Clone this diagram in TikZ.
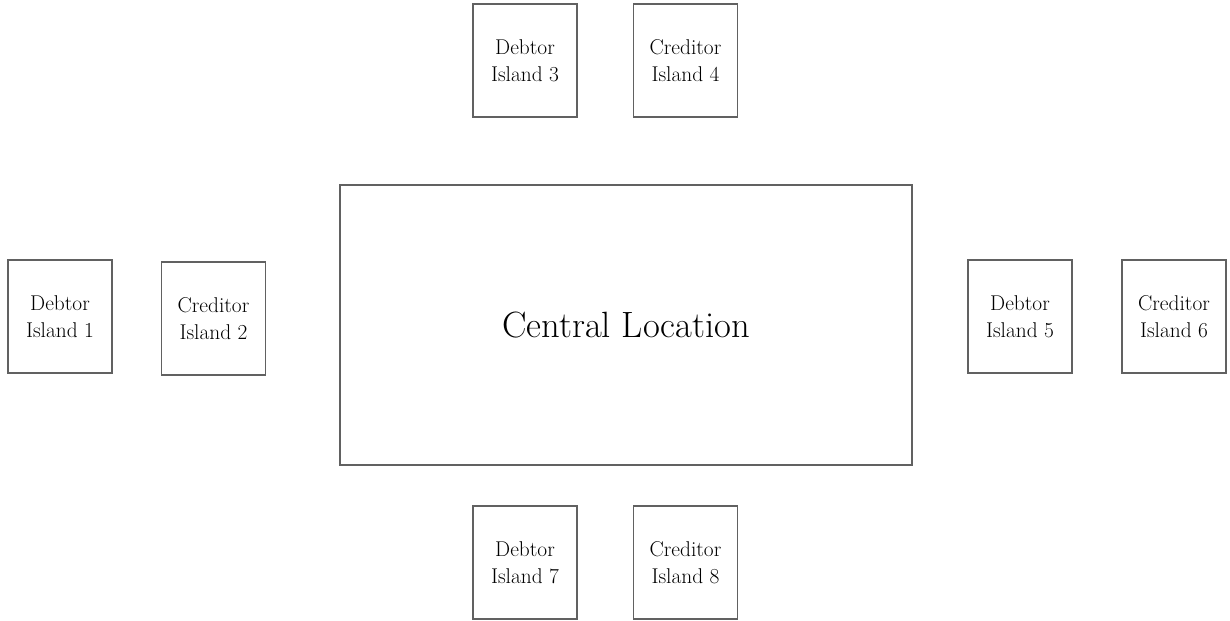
\documentclass[tikz,border=0pt]{standalone}
\usepackage{tikz}
\usetikzlibrary{positioning}

\begin{document}
\begin{tikzpicture}[
  x=0.025cm, y=-0.025cm,
  every node/.style={draw=black!62, line width=1.3pt, align=center, inner sep=2pt},
  island/.style={minimum width=2.6cm, minimum height=2.825cm, font=\fontsize{15.2}{19.5}\selectfont},
  hub/.style={minimum width=14.3cm, minimum height=7cm, font=\fontsize{26}{30}\selectfont}
]
\useasboundingbox (0,0) rectangle (1230,620);

% the middle
\node[hub] (central) at (626, 325) {Central Location};

% left side
\node[island] (isl1) at (60, 316.5) {Debtor\\Island 1};
\node[island] (isl2) at (213.5, 318.5) {Creditor\\Island 2};

% top
\node[island] (isl3) at (525, 60.5) {Debtor\\Island 3};
\node[island] (isl4) at (685.5, 60.5) {Creditor\\Island 4};

% right side
\node[island] (isl5) at (1020, 316.5) {Debtor\\Island 5};
\node[island] (isl6) at (1174, 316.5) {Creditor\\Island 6};

% bottom
\node[island] (isl7) at (525, 562.5) {Debtor\\Island 7};
\node[island] (isl8) at (685.5, 562.5) {Creditor\\Island 8};

\end{tikzpicture}
\end{document}
